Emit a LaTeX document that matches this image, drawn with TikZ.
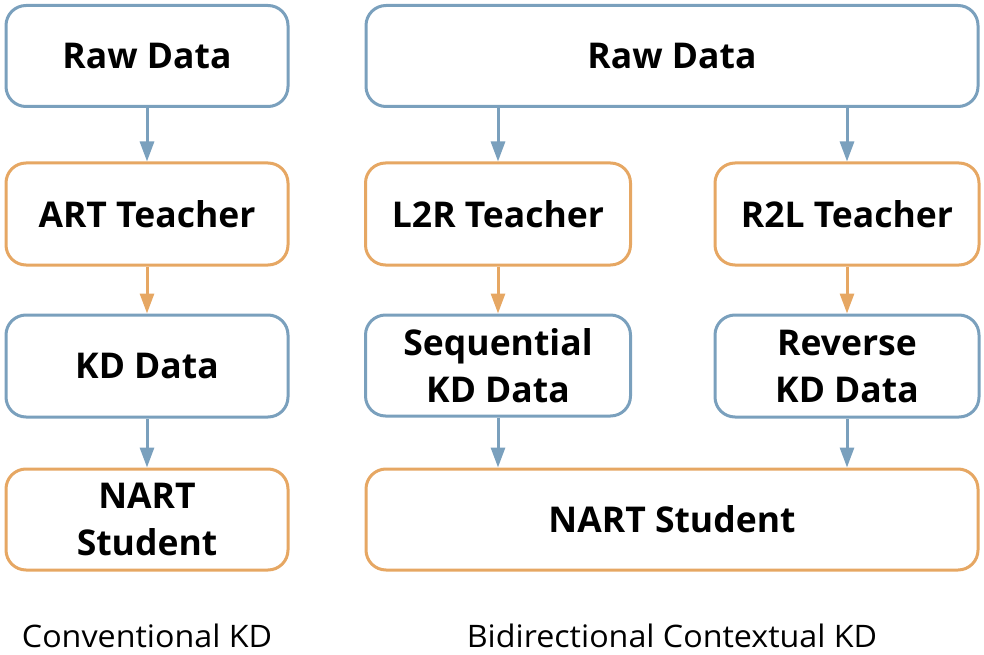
\documentclass[tikz,border=0pt]{standalone}
\usepackage{fontspec}
\setmainfont{Open Sans}
\newfontfamily\capfont{Open Sans}[FakeStretch=1.04]
\usetikzlibrary{arrows.meta}
\definecolor{bl}{HTML}{7AA0BD}
\definecolor{og}{HTML}{E6A763}
\tikzset{
  box/.style={draw, line width=3pt, rounded corners=20pt, fill=white, inner sep=0pt,
    align=center, font=\fontsize{35.5}{47}\selectfont\bfseries},
  bbox/.style={box, draw=bl},
  obox/.style={box, draw=og},
  arr/.style={line width=3pt, -{Triangle[width=14pt,length=20pt]}},
  captext/.style={font=\capfont\fontsize{31}{36}\selectfont, inner sep=0pt}
}
\begin{document}
\begin{tikzpicture}[x=1pt,y=-1pt]
\useasboundingbox (0,0) rectangle (984,655);
% left column
\node[bbox, minimum width=282pt, minimum height=101pt] (raw1) at (147,56) {Raw Data};
\node[obox, minimum width=282pt, minimum height=102pt] (art) at (147,214) {ART Teacher};
\node[bbox, minimum width=282pt, minimum height=102pt] (kd1) at (147,366) {KD Data};
\node[obox, minimum width=282pt, minimum height=101pt] (nart1) at (147,519.5) {NART\\Student};
% right column
\node[bbox, minimum width=612pt, minimum height=101pt] (raw2) at (672,56) {Raw Data};
\node[obox, minimum width=265pt, minimum height=102pt] (l2r) at (498,214) {L2R Teacher};
\node[obox, minimum width=264pt, minimum height=102pt] (r2l) at (847,214) {R2L Teacher};
\node[bbox, minimum width=265pt, minimum height=101pt] (seq) at (498,365.5) {Sequential\\KD Data};
\node[bbox, minimum width=264pt, minimum height=102pt] (rev) at (847,366) {Reverse\\KD Data};
\node[obox, minimum width=612pt, minimum height=101pt] (nart2) at (672,519.5) {NART Student};
% arrows
\draw[arr, bl] (raw1) -- (art);
\draw[arr, og] (art) -- (kd1);
\draw[arr, bl] (kd1) -- (nart1);
\draw[arr, bl] (raw2.south -| l2r.north) -- (l2r.north);
\draw[arr, bl] (raw2.south -| r2l.north) -- (r2l.north);
\draw[arr, og] (l2r) -- (seq);
\draw[arr, og] (r2l) -- (rev);
\draw[arr, bl] (seq.south) -- (seq.south |- nart2.north);
\draw[arr, bl] (rev.south) -- (rev.south |- nart2.north);
% captions
\node[captext] (c1) at (147,636) {Conventional KD};
\node[captext] (c2) at (672,636) {Bidirectional Contextual KD};
\end{tikzpicture}
\end{document}
